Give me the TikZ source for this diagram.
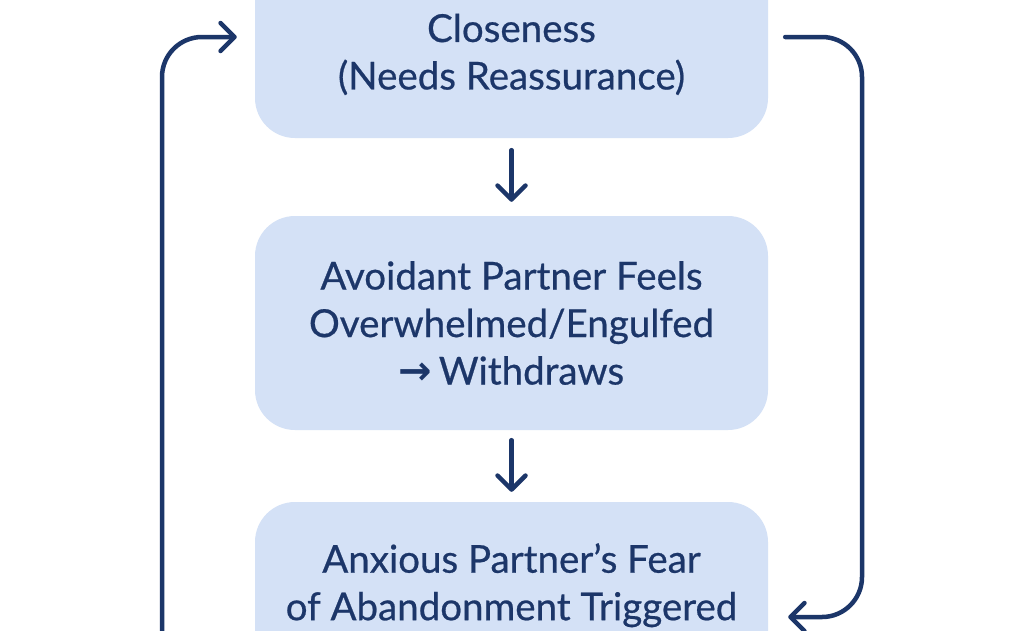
\documentclass[tikz,border=0pt]{standalone}
\usepackage{fontspec}
\setmainfont{Lato}[UprightFeatures={FakeBold=0.6}]
\newfontfamily\arrowfont{DejaVu Sans}
\usetikzlibrary{arrows.meta,calc}
\definecolor{boxfill}{HTML}{D4E1F6}
\definecolor{navy}{HTML}{1C3669}
\tikzset{
  stepbox/.style={fill=boxfill, draw=none, rounded corners=40pt, minimum width=513pt, minimum height=214pt,
    align=center, text=navy, font=\fontsize{38.5}{47.5}\selectfont, inner sep=0pt},
  flow/.style={draw=navy, line width=4.5pt, line cap=round, line join=round,
    -{Straight Barb[length=14pt,width=28pt,line width=4.5pt,round]}},
  loopline/.style={flow, rounded corners=40pt}
}
\begin{document}
\begin{tikzpicture}[x=1pt,y=-1pt]
\useasboundingbox (0,0) rectangle (1024,630);
\fill[white] (0,0) rectangle (1024,630);
\node[stepbox] (top) at (511.5,31) {\phantom{Ag}\\Closeness\\(Needs Reassurance)};
\node[stepbox] (mid) at (511.5,323) {Avoidant Partner Feels\\Overwhelmed/Engulfed\\{\arrowfont\bfseries\fontsize{40}{40}\selectfont →}\,Withdraws};
\node[stepbox] (bot) at (511.5,609) {Anxious Partner’s Fear\\of Abandonment Triggered\\\phantom{Ag}};
\draw[flow] ([yshift=-12pt]top.south) -- ([yshift=14pt]mid.north);
\draw[flow] ([yshift=-10pt]mid.south) -- ([yshift=10pt]bot.north);
\coordinate (lb) at (162,700);
\draw[loopline] (lb) |- ([xshift=-18pt,yshift=-6pt]top.west);
\coordinate (rx) at (862,0);
\coordinate (r2) at ([xshift=20pt,yshift=-8pt]bot.east);
\draw[loopline] ([xshift=17pt,yshift=-6pt]top.east) -| (rx |- r2) -- (r2);
\end{tikzpicture}
\end{document}
